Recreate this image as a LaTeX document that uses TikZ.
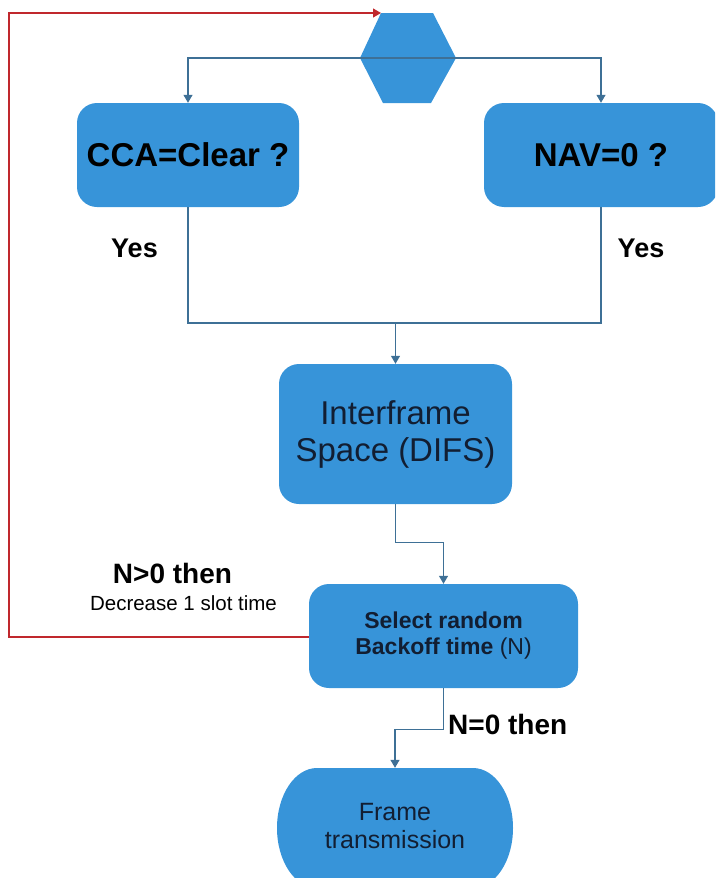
\documentclass[tikz,border=0pt]{standalone}
\usepackage{fontspec}
\setmainfont{Liberation Sans}
\usetikzlibrary{arrows.meta}
\definecolor{boxblue}{RGB}{55,148,217}
\definecolor{linkblue}{RGB}{62,112,150}
\definecolor{loopred}{RGB}{192,40,45}
\definecolor{boxtext}{RGB}{18,30,50}

\begin{document}
\begin{tikzpicture}[x=1pt,y=1pt,
  box/.style={fill=boxblue, draw=none, rounded corners=20pt, inner sep=0pt,
              align=center, text=boxtext},
  link/.style={draw=linkblue, line width=1.2pt},
  tip/.style={-{Triangle[width=9pt,length=8pt]}},
  lbl/.style={font=\bfseries\fontsize{28}{32}\selectfont, inner sep=0pt, text=black}]
\useasboundingbox (0,0) rectangle (715,-878);
\begin{scope}
\clip (0,0) rectangle (715,-878);

% start hexagon
\fill[boxblue] (381,-13) -- (433,-13) -- (456,-58) -- (431,-103)
  -- (383,-103) -- (360,-58) -- cycle;
\coordinate (hexL) at (360,-58);
\coordinate (hexR) at (456,-58);
\coordinate (hexTL) at (381,-13);

% decision boxes
\node[box, minimum width=222pt, minimum height=104pt, text=black,
      font=\bfseries\fontsize{33}{38}\selectfont] (cca) at (188,-155) {CCA=Clear ?};
\node[box, minimum width=234pt, minimum height=104pt, text=black,
      font=\bfseries\fontsize{33}{38}\selectfont] (nav) at (601,-155) {NAV=0 ?};

% process boxes
\node[box, minimum width=233pt, minimum height=140pt,
      font=\fontsize{33}{37}\selectfont] (ifs) at (395.5,-434) {Interframe\\Space (DIFS)};
\node[box, minimum width=269pt, minimum height=104pt,
      font=\bfseries\fontsize{23}{26}\selectfont] (sel) at (443.5,-636)
      {Select random\\Backoff time {\mdseries(N)}};

% terminal
\fill[boxblue] (317,-768) -- (473,-768)
  arc[start angle=90, end angle=-90, x radius=40, y radius=60]
  -- (317,-888)
  arc[start angle=270, end angle=90, x radius=40, y radius=60] -- cycle;
\node[minimum width=236pt, minimum height=120pt, inner sep=0pt, align=center,
      text=boxtext, font=\fontsize{25}{28}\selectfont] (tx) at (395,-826)
      {Frame\\transmission};

% connectors
\draw[link,tip] (hexR) -| (cca.north);
\draw[link,tip] (hexR) -| (nav.north);
\coordinate (join) at (395.5,-323);
\draw[link] (cca.south) |- (join) -| (nav.south);
\draw[link,tip] (join) -- (ifs.north);
\draw[link,tip] (ifs.south) -- ++(0,-38) -| (sel.north);
\draw[link,tip] (sel.south) -- ++(0,-41) -| ([yshift=-2pt]tx.north);
\coordinate (loop) at (9,-637);
\draw[loopred, line width=1.2pt, tip] (sel.west |- loop) -- (loop) |- (hexTL);

% labels
\node[lbl, font=\bfseries\fontsize{27}{30}\selectfont, anchor=base] (yesL) at (134.5,-257) {Yes};
\node[lbl, font=\bfseries\fontsize{27}{30}\selectfont, anchor=base] (yesR) at (641,-257) {Yes};
\node[lbl, anchor=base] (ngt) at (172.5,-583) {N>0 then};
\node[inner sep=0pt, anchor=base, font=\fontsize{20.5}{24}\selectfont] (dec) at (183.5,-610) {Decrease 1 slot time};
\node[lbl, anchor=base west] (neq) at (448,-734) {N=0 then};
\end{scope}
\end{tikzpicture}
\end{document}
